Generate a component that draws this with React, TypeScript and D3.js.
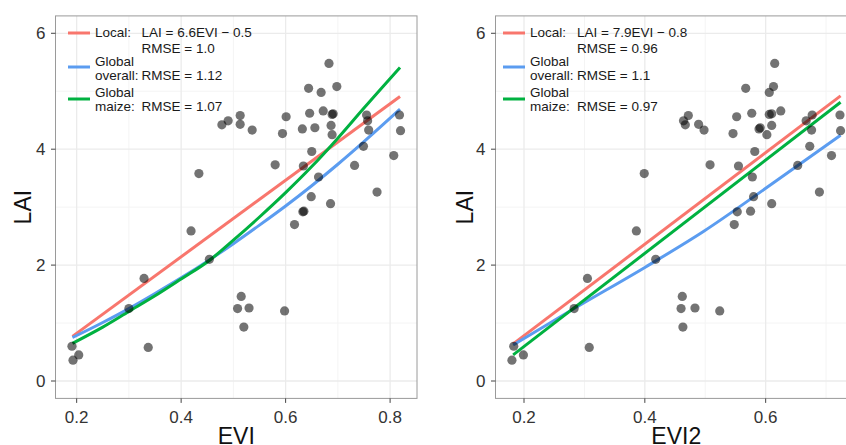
import * as d3 from 'd3';

// observed LAI (same plots in both panels)
const lai = [5.48, 5.05, 4.98, 5.08, 4.66, 4.62, 4.61, 4.6, 4.56, 4.58, 4.49, 4.42, 4.43, 4.33, 4.27, 4.35, 4.37, 4.41, 4.25, 4.59, 4.49, 4.33, 4.59, 4.32, 4.05, 3.89, 3.96, 3.72, 3.73, 3.71, 3.58, 3.52, 3.26, 3.18, 3.06, 2.92, 2.93, 2.7, 2.59, 2.1, 1.77, 1.25, 1.46, 1.25, 1.26, 0.93, 1.21, 0.6, 0.58, 0.45, 0.36];
const evi = [0.683, 0.644, 0.668, 0.698, 0.672, 0.646, 0.691, 0.689, 0.601, 0.513, 0.49, 0.478, 0.513, 0.536, 0.594, 0.632, 0.656, 0.687, 0.689, 0.755, 0.757, 0.759, 0.818, 0.82, 0.749, 0.807, 0.65, 0.732, 0.58, 0.634, 0.434, 0.663, 0.775, 0.649, 0.686, 0.633, 0.635, 0.617, 0.419, 0.454, 0.329, 0.3, 0.515, 0.508, 0.53, 0.52, 0.598, 0.191, 0.337, 0.204, 0.193];
const evi2 = [0.615, 0.567, 0.606, 0.613, 0.625, 0.577, 0.61, 0.606, 0.552, 0.472, 0.464, 0.467, 0.489, 0.498, 0.546, 0.589, 0.591, 0.61, 0.602, 0.677, 0.667, 0.676, 0.723, 0.724, 0.673, 0.709, 0.582, 0.653, 0.508, 0.555, 0.399, 0.578, 0.689, 0.58, 0.61, 0.553, 0.575, 0.548, 0.386, 0.418, 0.305, 0.283, 0.462, 0.46, 0.483, 0.463, 0.524, 0.183, 0.308, 0.199, 0.18];

// fitted models as [index, LAI]
const eviLocal = [[0.192, 0.77], [0.819, 4.91]];
const eviOverall = [[0.192, 0.75], [0.25, 1.01], [0.3, 1.25], [0.35, 1.51], [0.4, 1.78], [0.454, 2.09], [0.5, 2.37], [0.55, 2.69], [0.6, 3.02], [0.65, 3.37], [0.7, 3.74], [0.75, 4.13], [0.819, 4.69]];
const eviMaize = [[0.192, 0.65], [0.25, 0.93], [0.3, 1.2], [0.35, 1.47], [0.4, 1.76], [0.454, 2.08], [0.5, 2.43], [0.55, 2.83], [0.6, 3.25], [0.65, 3.7], [0.7, 4.19], [0.75, 4.71], [0.819, 5.41]];
const evi2Local = [[0.182, 0.64], [0.724, 4.92]];
const evi2Overall = [[0.182, 0.62], [0.283, 1.25], [0.4, 1.96], [0.497, 2.58], [0.613, 3.42], [0.724, 4.24]];
const evi2Maize = [[0.182, 0.45], [0.724, 4.81]];

const seriesColors = ['#F8766D', '#5B9CF0', '#00B140'];

const xTicks = [0.2, 0.4, 0.6, 0.8];
const xMinor = [0.3, 0.5, 0.7];
const yTicks = [0, 2, 4, 6];
const yMinor = [1, 3, 5];

const eviLegend = [
  { label: ['Local:'], stats: ['LAI = 6.6EVI \u2212 0.5', 'RMSE = 1.0'] },
  { label: ['Global', 'overall:'], stats: ['RMSE = 1.12'] },
  { label: ['Global', 'maize:'], stats: ['RMSE = 1.07'] },
];
const evi2Legend = [
  { label: ['Local:'], stats: ['LAI = 7.9EVI \u2212 0.8', 'RMSE = 0.96'] },
  { label: ['Global', 'overall:'], stats: ['RMSE = 1.1'] },
  { label: ['Global', 'maize:'], stats: ['RMSE = 0.97'] },
];

const font = '"Liberation Sans", Arial, sans-serif';
const top = 15.9;
const bottom = 398.4;

// legend layout (baselines)
const keyY = [33, 67, 99];
const labelY = [[37], [65.5, 80], [96.5, 110.5]];
const statY = [[37, 52.5], [80], [110.5]];

const Panel = ({ range, domain, xs, fits, legend, xTitle, keyX, labelX, statX, yTitleX }) => {
  const x = d3.scaleLinear().domain(domain).range(range);
  const y = d3.scaleLinear().domain([-0.3, 6.3]).range([bottom, top]);
  const line = d3
    .line()
    .x((d) => x(d[0]))
    .y((d) => y(d[1]))
    .curve(d3.curveMonotoneX);
  const [left, right] = range;
  const inX = (v) => v >= domain[0] && v <= domain[1];

  return (
    <g>
      <rect x={left} y={top} width={right - left} height={bottom - top} fill="#fff" />
      {yMinor.map((v) => (
        <line key={'ym' + v} x1={left} x2={right} y1={y(v)} y2={y(v)} stroke="#F4F4F4" strokeWidth={1} />
      ))}
      {xMinor.filter(inX).map((v) => (
        <line key={'xm' + v} x1={x(v)} x2={x(v)} y1={top} y2={bottom} stroke="#F4F4F4" strokeWidth={1} />
      ))}
      {yTicks.map((v) => (
        <line key={'yg' + v} x1={left} x2={right} y1={y(v)} y2={y(v)} stroke="#EBEBEB" strokeWidth={1.3} />
      ))}
      {xTicks.filter(inX).map((v) => (
        <line key={'xg' + v} x1={x(v)} x2={x(v)} y1={top} y2={bottom} stroke="#EBEBEB" strokeWidth={1.3} />
      ))}

      {fits.map((f, i) => (
        <path key={'f' + i} d={line(f)} fill="none" stroke={seriesColors[i]} strokeWidth={3} />
      ))}

      {xs.map((v, i) => (
        <circle key={'p' + i} cx={x(v)} cy={y(lai[i])} r={4.6} fill="#000" fillOpacity={0.55} />
      ))}

      <rect x={left} y={top} width={right - left} height={bottom - top} fill="none" stroke="#9A9A9A" strokeWidth={1} />

      {yTicks.map((v) => (
        <g key={'yt' + v}>
          <line x1={left - 4.5} x2={left} y1={y(v)} y2={y(v)} stroke="#444" strokeWidth={1} />
          <text x={left - 10} y={y(v)} dy="0.36em" textAnchor="end" fontSize={17} fill="#333" fontFamily={font}>
            {v}
          </text>
        </g>
      ))}
      {xTicks.filter(inX).map((v) => (
        <g key={'xt' + v}>
          <line x1={x(v)} x2={x(v)} y1={bottom} y2={bottom + 4.5} stroke="#444" strokeWidth={1} />
          <text x={x(v)} y={423.3} textAnchor="middle" fontSize={17} fill="#333" fontFamily={font}>
            {v.toFixed(1)}
          </text>
        </g>
      ))}

      <text x={(left + right) / 2} y={444} textAnchor="middle" fontSize={23} fill="#111" fontFamily={font}>
        {xTitle}
      </text>
      <text
        transform={`translate(${yTitleX},${(top + bottom) / 2}) rotate(-90)`}
        textAnchor="middle"
        fontSize={23}
        fill="#111"
        fontFamily={font}
      >
        LAI
      </text>

      {legend.map((item, i) => (
        <g key={'lg' + i} fontFamily={font} fontSize={13.5} fill="#1a1a1a">
          <line x1={keyX} x2={keyX + 22} y1={keyY[i]} y2={keyY[i]} stroke={seriesColors[i]} strokeWidth={3} />
          {item.label.map((t, j) => (
            <text key={'l' + j} x={labelX} y={labelY[i][j]}>
              {t}
            </text>
          ))}
          {item.stats.map((t, j) => (
            <text key={'s' + j} x={statX} y={statY[i][j]}>
              {t}
            </text>
          ))}
        </g>
      ))}
    </g>
  );
};

export default function App() {
  return (
    <svg
      width={846}
      height={445}
      style={{ position: 'absolute', left: 0, top: 0, display: 'block', background: '#fff' }}
    >
      <rect width={846} height={445} fill="#fff" />
      <Panel
        range={[55.5, 417]}
        domain={[0.1595, 0.8515]}
        xs={evi}
        fits={[eviLocal, eviOverall, eviMaize]}
        legend={eviLegend}
        xTitle="EVI"
        keyX={68}
        labelX={95}
        statX={141.5}
        yTitleX={31}
      />
      <Panel
        range={[495.5, 857]}
        domain={[0.1528, 0.7512]}
        xs={evi2}
        fits={[evi2Local, evi2Overall, evi2Maize]}
        legend={evi2Legend}
        xTitle="EVI2"
        keyX={503}
        labelX={530}
        statX={577}
        yTitleX={473}
      />
    </svg>
  );
}
